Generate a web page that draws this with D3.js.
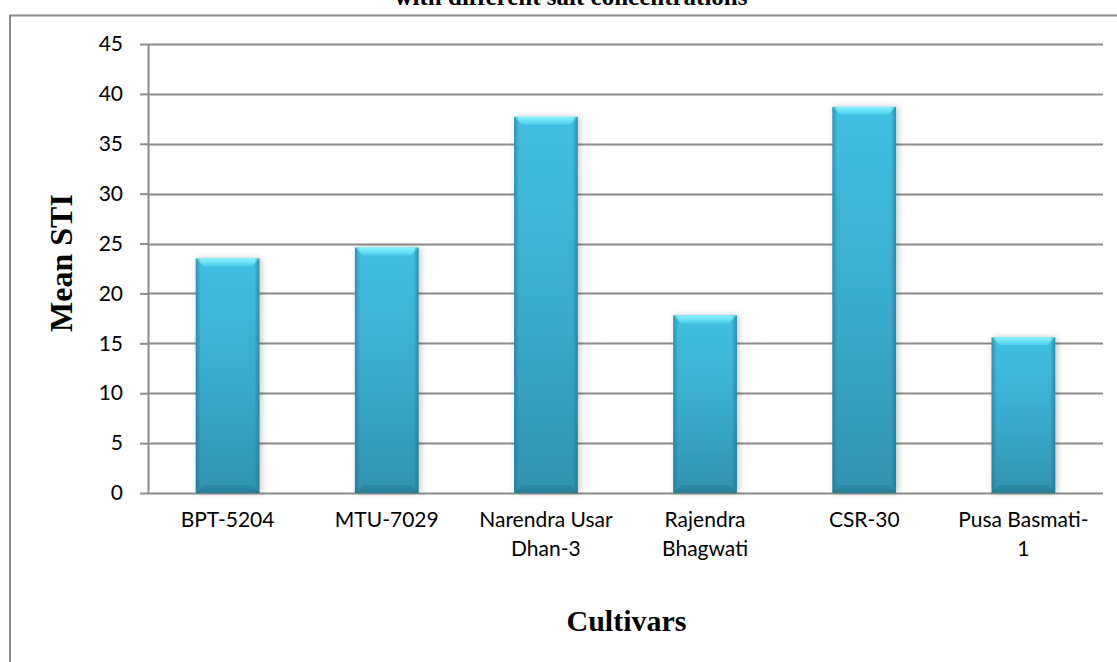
<!DOCTYPE html>
<html>
<head>
<meta charset="utf-8">
<script src="https://cdn.jsdelivr.net/npm/d3@7"></script>
<style>
  html, body { margin: 0; padding: 0; background: #fff; }
  svg { display: block; }
</style>
</head>
<body>
<svg id="chart" width="1117" height="662"></svg>
<script>
// Cultivars and their mean salt tolerance index
const cultivars = [
  ["BPT-5204"],
  ["MTU-7029"],
  ["Narendra Usar", "Dhan-3"],
  ["Rajendra", "Bhagwati"],
  ["CSR-30"],
  ["Pusa Basmati-", "1"]
];
const meanSTI = [23.5, 24.6, 37.7, 17.8, 38.7, 15.6];
const yTicks = [0, 5, 10, 15, 20, 25, 30, 35, 40, 45];

const titleText = "with different salt concentrations";
const yTitle = "Mean STI";
const xTitle = "Cultivars";

const svg = d3.select("#chart");
const W = 1117, H = 662;
const plot = { left: 148, right: 1103, top: 44, bottom: 493 };
const labelFont = "Lato, 'Open Sans', sans-serif";
const titleFont = "'Liberation Serif', 'Times New Roman', serif";

const x = d3.scaleBand()
  .domain(d3.range(cultivars.length))
  .range([plot.left, plot.right])
  .paddingInner(0.6)
  .paddingOuter(0.3);

const y = d3.scaleLinear().domain([0, 45]).range([plot.bottom, plot.top]);

const defs = svg.append("defs");

// body shading: lighter near the top, deeper teal near the base
const gBody = defs.append("linearGradient").attr("id", "body").attr("x1", 0).attr("y1", 0).attr("x2", 0).attr("y2", 1);
gBody.append("stop").attr("offset", "0%").attr("stop-color", "#40bfe2");
gBody.append("stop").attr("offset", "55%").attr("stop-color", "#38aacb");
gBody.append("stop").attr("offset", "100%").attr("stop-color", "#2f93af");

// side edges darken a little
const gSide = defs.append("linearGradient").attr("id", "side").attr("x1", 0).attr("y1", 0).attr("x2", 1).attr("y2", 0);
gSide.append("stop").attr("offset", "0%").attr("stop-color", "#1d6f86").attr("stop-opacity", 0.55);
gSide.append("stop").attr("offset", "8%").attr("stop-color", "#1d6f86").attr("stop-opacity", 0.0);
gSide.append("stop").attr("offset", "92%").attr("stop-color", "#1d6f86").attr("stop-opacity", 0.0);
gSide.append("stop").attr("offset", "100%").attr("stop-color", "#1d6f86").attr("stop-opacity", 0.6);

const gTop = defs.append("linearGradient").attr("id", "topBevel").attr("x1", 0).attr("y1", 0).attr("x2", 0).attr("y2", 1);
gTop.append("stop").attr("offset", "0%").attr("stop-color", "#86f4ff");
gTop.append("stop").attr("offset", "100%").attr("stop-color", "#4ccdec");

const gBot = defs.append("linearGradient").attr("id", "botBevel").attr("x1", 0).attr("y1", 0).attr("x2", 0).attr("y2", 1);
gBot.append("stop").attr("offset", "0%").attr("stop-color", "#2b8aa4");
gBot.append("stop").attr("offset", "100%").attr("stop-color", "#2a8099");

const shadow = defs.append("filter").attr("id", "shadow")
  .attr("x", "-30%").attr("y", "-10%").attr("width", "160%").attr("height", "120%");
shadow.append("feDropShadow").attr("dx", 2).attr("dy", 0).attr("stdDeviation", 3)
  .attr("flood-color", "#000").attr("flood-opacity", 0.22);

// outer frame (runs past the right and bottom edges)
svg.append("path")
  .attr("d", `M10,${H + 5} L10,15.5 L${W + 5},15.5`)
  .attr("fill", "none").attr("stroke", "#8c8c8c").attr("stroke-width", 2);

// title, its upper part outside the view
svg.append("text")
  .attr("x", 571).attr("y", 5)
  .attr("text-anchor", "middle")
  .attr("font-family", titleFont)
  .attr("font-weight", "bold").attr("font-size", 25)
  .attr("fill", "#000")
  .text(titleText);

// horizontal gridlines
svg.append("g").selectAll("line").data(yTicks).join("line")
  .attr("x1", plot.left).attr("x2", plot.right)
  .attr("y1", d => Math.round(y(d)) + 0.5).attr("y2", d => Math.round(y(d)) + 0.5)
  .attr("stroke", "#8c8c8c").attr("stroke-width", 2);

// y axis
const yAxis = svg.append("g")
  .attr("transform", `translate(${plot.left},0)`)
  .call(d3.axisLeft(y).tickValues(yTicks).tickSize(8).tickPadding(17).tickSizeOuter(0));
yAxis.select(".domain").attr("stroke", "#8c8c8c").attr("stroke-width", 2);
yAxis.selectAll(".tick line").attr("stroke", "#8c8c8c").attr("stroke-width", 2);
yAxis.selectAll(".tick text")
  .attr("font-family", labelFont)
  .attr("font-size", 21).attr("fill", "#000");

// bars
const bars = svg.append("g").selectAll("g").data(meanSTI).join("g")
  .attr("filter", "url(#shadow)");

bars.each(function(v, i) {
  const g = d3.select(this);
  const x0 = x(i), w = x.bandwidth();
  const y0 = y(v), y1 = y(0);
  const b = 8;
  g.append("rect").attr("x", x0).attr("y", y0).attr("width", w).attr("height", y1 - y0)
    .attr("fill", "url(#body)");
  g.append("polygon")
    .attr("points", [[x0, y0], [x0 + w, y0], [x0 + w - b, y0 + b], [x0 + b, y0 + b]].map(p => p.join(",")).join(" "))
    .attr("fill", "url(#topBevel)");
  g.append("polygon")
    .attr("points", [[x0, y1], [x0 + w, y1], [x0 + w - b, y1 - b], [x0 + b, y1 - b]].map(p => p.join(",")).join(" "))
    .attr("fill", "url(#botBevel)");
  g.append("rect").attr("x", x0).attr("y", y0).attr("width", w).attr("height", y1 - y0)
    .attr("fill", "url(#side)");
});

// category labels
const cat = svg.append("g").selectAll("text").data(cultivars).join("text")
  .attr("x", (d, i) => x(i) + x.bandwidth() / 2)
  .attr("y", 527)
  .attr("text-anchor", "middle")
  .attr("font-family", labelFont)
  .attr("font-size", 21).attr("fill", "#000");
cat.selectAll("tspan").data(d => d).join("tspan")
  .attr("x", function() { return d3.select(this.parentNode).attr("x"); })
  .attr("dy", (d, j) => j === 0 ? 0 : 29)
  .text(d => d);

// axis titles
svg.append("text")
  .attr("x", (plot.left + plot.right) / 2 + 1).attr("y", 631)
  .attr("text-anchor", "middle")
  .attr("font-family", titleFont)
  .attr("font-weight", "bold").attr("font-size", 30)
  .text(xTitle);

svg.append("text")
  .attr("transform", "translate(72,263) rotate(-90)")
  .attr("text-anchor", "middle")
  .attr("font-family", titleFont)
  .attr("font-weight", "bold").attr("font-size", 32)
  .text(yTitle);
</script>
</body>
</html>
